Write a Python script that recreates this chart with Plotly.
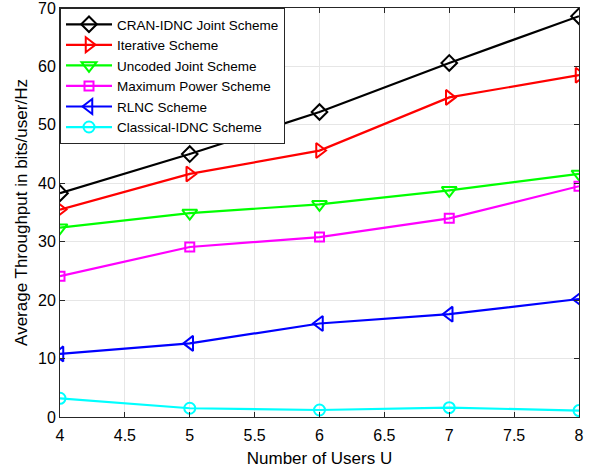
import plotly.graph_objects as go

users = [4, 5, 6, 7, 8]
cran_idnc = [38.3, 45.0, 52.2, 60.6, 68.6]
iterative = [35.5, 41.6, 45.6, 54.7, 58.5]
uncoded = [32.4, 34.9, 36.4, 38.8, 41.6]
max_power = [24.1, 29.1, 30.8, 34.0, 39.5]
rlnc = [10.8, 12.6, 16.0, 17.6, 20.2]
classical = [3.2, 1.5, 1.2, 1.6, 1.1]

names = ["CRAN-IDNC Joint Scheme", "Iterative Scheme", "Uncoded Joint Scheme",
         "Maximum Power Scheme", "RLNC Scheme", "Classical-IDNC Scheme"]
series = [cran_idnc, iterative, uncoded, max_power, rlnc, classical]
colors = ["#000000", "#FF0000", "#00FF00", "#FF00FF", "#0000FF", "#00FFFF"]
symbols = ["diamond-open", "triangle-right-open", "triangle-down-open",
           "square-open", "triangle-left-open", "circle-open"]
sizes = [12, 13, 13, 9, 13, 11]

fig = go.Figure()
for n, s, c, sym, sz in zip(names, series, colors, symbols, sizes):
    fig.add_trace(go.Scatter(
        x=users, y=s, name=n, mode="lines+markers",
        line=dict(color=c, width=2.2),
        marker=dict(symbol=sym, size=sz, color=c, line=dict(color=c, width=2)),
    ))

axis_common = dict(
    showline=True, linecolor="#262626", linewidth=1, mirror="ticks",
    ticks="inside", ticklen=5, tickcolor="#262626",
    showgrid=True, gridcolor="#E6E6E6", gridwidth=1, zeroline=False,
    ticklabeloverflow="allow", automargin=False,
    tickfont=dict(family="Liberation Sans, Arial", size=16, color="#000000"),
)

fig.update_layout(
    width=592, height=471,
    margin=dict(l=60, r=13, t=8, b=54),
    paper_bgcolor="white", plot_bgcolor="white",
    font=dict(family="Liberation Sans, Arial", color="#000000"),
    xaxis=dict(range=[4, 8], dtick=0.5, ticklabelstandoff=4,
               title=dict(text="Number of Users U", font=dict(size=17), standoff=8),
               **axis_common),
    yaxis=dict(range=[0, 70], dtick=10,
               title=dict(text="Average Throughput in bits/user/Hz", font=dict(size=17), standoff=6),
               **axis_common),
    legend=dict(x=0, y=1, xanchor="left", yanchor="top",
                bgcolor="white", bordercolor="#262626", borderwidth=1,
                font=dict(size=13.5, family="Liberation Sans, Arial"),
                itemwidth=46, tracegroupgap=0),
    showlegend=True,
)

fig.write_html("out.html")
